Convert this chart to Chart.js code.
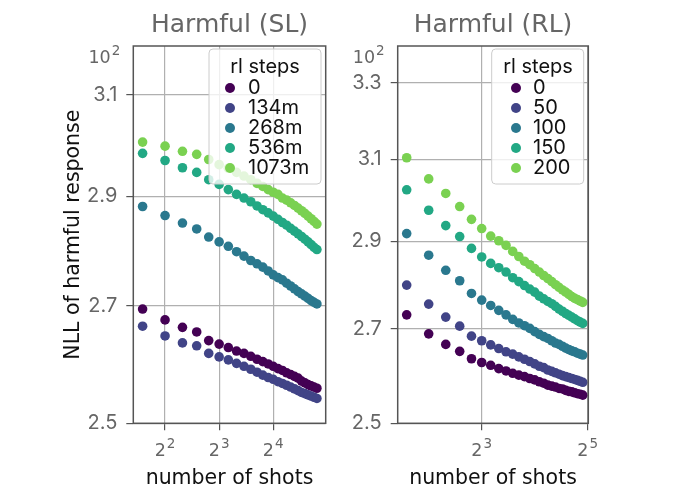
<!DOCTYPE html>
<html>
<head>
<meta charset="utf-8">
<script src="https://cdn.jsdelivr.net/npm/chart.js@4.4.0/dist/chart.umd.min.js"></script>
<style>
  html, body { margin: 0; padding: 0; background: #fff; }
  #wrap { position: relative; width: 680px; height: 499px; }
  .panel { position: absolute; top: 0; width: 340px; height: 499px; }
</style>
</head>
<body>
<div id="wrap">
  <div class="panel" style="left:0"><canvas id="sl" width="340" height="499"></canvas></div>
  <div class="panel" style="left:340px"><canvas id="rl" width="340" height="499"></canvas></div>
</div>
<script>
// number of shots
const shotsSL = [3,4,5,6,7,8,9,10,11,12,13,14,15,16,17,18,19,20,21,22,23,24,25,26,27,28];
const shotsRL = [3,4,5,6,7,8,9,10,11,12,13,14,15,16,17,18,19,20,21,22,23,24,25,26,27,28,29,30];

const slSteps = ["0", "134m", "268m", "536m", "1073m"];
const rlSteps = ["0", "50", "100", "150", "200"];

// NLL of harmful response, Harmful (SL)
const sl0    = [2.694,2.675,2.662,2.654,2.639,2.633,2.627,2.621,2.617,2.612,2.607,2.603,2.599,2.595,2.591,2.588,2.584,2.581,2.578,2.575,2.570,2.567,2.564,2.562,2.560,2.558];
const sl134  = [2.664,2.647,2.635,2.630,2.617,2.611,2.606,2.600,2.595,2.590,2.585,2.580,2.576,2.573,2.569,2.566,2.563,2.560,2.557,2.554,2.551,2.549,2.547,2.545,2.543,2.541];
const sl268  = [2.881,2.864,2.850,2.839,2.824,2.815,2.807,2.797,2.789,2.781,2.775,2.769,2.762,2.755,2.750,2.746,2.740,2.735,2.730,2.725,2.721,2.717,2.713,2.709,2.706,2.703];
const sl536  = [2.983,2.969,2.955,2.946,2.932,2.923,2.913,2.904,2.897,2.890,2.882,2.875,2.869,2.863,2.857,2.851,2.846,2.840,2.835,2.830,2.825,2.820,2.815,2.810,2.805,2.801];
const sl1073 = [3.005,2.997,2.987,2.981,2.971,2.961,2.954,2.946,2.939,2.932,2.925,2.919,2.913,2.908,2.904,2.897,2.893,2.888,2.883,2.878,2.873,2.868,2.863,2.858,2.853,2.848];

// NLL of harmful response, Harmful (RL)
const rl0   = [2.731,2.689,2.666,2.651,2.635,2.627,2.621,2.614,2.609,2.604,2.600,2.597,2.593,2.590,2.586,2.583,2.579,2.577,2.575,2.572,2.571,2.568,2.566,2.565,2.563,2.561,2.560,2.558];
const rl50  = [2.798,2.755,2.726,2.706,2.684,2.674,2.665,2.657,2.650,2.645,2.639,2.634,2.629,2.624,2.619,2.616,2.611,2.608,2.605,2.602,2.599,2.597,2.595,2.593,2.591,2.589,2.587,2.585];
const rl100 = [2.918,2.867,2.832,2.808,2.779,2.764,2.752,2.741,2.731,2.721,2.713,2.707,2.701,2.694,2.688,2.683,2.679,2.674,2.669,2.666,2.662,2.658,2.655,2.652,2.650,2.647,2.645,2.643];
const rl150 = [3.024,2.974,2.937,2.911,2.883,2.863,2.848,2.838,2.828,2.815,2.806,2.797,2.789,2.782,2.773,2.767,2.761,2.756,2.750,2.744,2.739,2.734,2.730,2.726,2.722,2.718,2.715,2.712];
const rl200 = [3.104,3.051,3.015,2.983,2.952,2.930,2.912,2.901,2.890,2.876,2.864,2.853,2.845,2.836,2.828,2.820,2.813,2.806,2.799,2.793,2.787,2.782,2.777,2.772,2.768,2.765,2.762,2.759];

// ticks (x labels are 2^exp, the top y tick is labelled 10^2)
const slXTicks = [4, 8, 16];
const rlXTicks = [8, 32];
const slYTicks = [2.5, 2.7, 2.9, 3.1];
const rlYTicks = [2.5, 2.7, 2.9, 3.1, 3.3];
const slTopTick = 3.178;
const rlTopTick = 3.371;

const colors = ["#440154", "#414487", "#2a788e", "#22a884", "#7ad151"];
const FONT = "Inter";
const MATH = "DejaVu Sans";
const GRID = "#b0b0b0";

// base with superscript, centred or right aligned at x, base baseline at y
function drawPow(c, base, exp, x, y, align) {
  c.font = "17.5px " + MATH;
  const bw = c.measureText(base).width;
  c.font = "13.5px " + MATH;
  const ew = c.measureText(exp).width;
  const total = bw + 1 + ew;
  const x0 = align === "right" ? x - total : x - total / 2;
  c.textAlign = "left";
  c.textBaseline = "alphabetic";
  c.font = "17.5px " + MATH;
  c.fillText(base, x0, y);
  c.font = "13.5px " + MATH;
  c.fillText(exp, x0 + bw + 1, y - 8);
}

function legendPlugin(labels, pos) {
  return {
    id: "innerLegend",
    afterDraw(chart) {
      const c = chart.ctx;
      c.save();
      c.beginPath();
      c.roundRect(pos.x, pos.y, pos.w, pos.h, 4);
      c.fillStyle = "rgba(255,255,255,0.8)";
      c.fill();
      c.strokeStyle = "#cccccc";
      c.lineWidth = 1;
      c.stroke();
      c.fillStyle = "#111";
      c.font = "20px " + FONT;
      c.textBaseline = "middle";
      c.textAlign = "center";
      c.fillText("rl steps", pos.titleX, pos.y + 18);
      c.textAlign = "left";
      labels.forEach((lab, i) => {
        const yy = pos.y + 39 + i * 20;
        c.beginPath();
        c.arc(pos.markerX, yy, 5, 0, Math.PI * 2);
        c.fillStyle = colors[i];
        c.fill();
        c.fillStyle = "#111";
        c.fillText(lab, pos.textX, yy);
      });
      c.restore();
    }
  };
}

const framePlugin = {
  id: "frame",
  afterDatasetsDraw(chart) {
    const a = chart.chartArea, c = chart.ctx;
    c.save();
    c.strokeStyle = "#555";
    c.lineWidth = 1.5;
    c.strokeRect(a.left, a.top, a.right - a.left, a.bottom - a.top);
    c.restore();
  },
  afterDraw(chart) {
    const a = chart.chartArea, c = chart.ctx, o = chart.options.panel;
    const xs = chart.scales.x, ys = chart.scales.y;
    c.save();
    // panel title
    c.fillStyle = "#666";
    c.font = "25px " + MATH;
    c.textAlign = "center";
    c.textBaseline = "alphabetic";
    c.fillText(o.title, (a.left + a.right) / 2, 32.3);
    // x tick labels 2^n
    o.xTicks.forEach(v => {
      drawPow(c, "2", String(Math.round(Math.log2(v))), xs.getPixelForValue(v), 456, "center");
    });
    // top y label
    drawPow(c, "10", "2", a.left - 13, ys.getPixelForValue(o.topTick) + 6.5, "right");
    c.restore();
  }
};

function makePanel(id, o) {
  const datasets = o.series.map((s, i) => ({
    label: o.steps[i],
    data: o.shots.map((n, k) => ({ x: n, y: s[k] })),
    backgroundColor: colors[i],
    borderWidth: 0,
    pointRadius: 4.8,
    showLine: false,
    order: -i
  }));

  return new Chart(document.getElementById(id), {
    type: "scatter",
    data: { datasets: datasets },
    options: {
      responsive: false,
      animation: false,
      panel: o,
      layout: { padding: { left: 0, right: o.padRight, top: 46, bottom: 0 } },
      plugins: { legend: { display: false }, tooltip: { enabled: false } },
      scales: {
        x: {
          type: "logarithmic",
          bounds: "data",
          min: o.xMin,
          max: o.xMax,
          afterBuildTicks: s => { s.ticks = o.xTicks.map(v => ({ value: v })); },
          afterFit: s => { s.height = 75.7; },
          ticks: {
            autoSkip: false,
            maxRotation: 0,
            color: "#666",
            font: { family: MATH, size: 16 },
            callback: () => ""
          },
          grid: { color: GRID, lineWidth: 1.2, tickLength: 7, tickColor: "#555" },
          border: { display: false },
          title: {
            display: true,
            text: "number of shots",
            color: "#111",
            font: { family: MATH, size: 20.5 },
            padding: { top: 0, bottom: 8 }
          }
        },
        y: {
          type: "logarithmic",
          bounds: "data",
          min: 2.5,
          max: o.yMax,
          afterBuildTicks: s => { s.ticks = o.yTicks.map(v => ({ value: v })); },
          afterFit: s => { s.width = o.yWidth; },
          ticks: {
            autoSkip: false,
            padding: 9,
            color: "#666",
            font: { family: FONT, size: 20 },
            callback: v => v.toFixed(1)
          },
          grid: { color: GRID, lineWidth: 1.2, tickLength: 7, tickColor: "#555" },
          border: { display: false },
          title: {
            display: o.yTitle,
            text: "NLL of harmful response",
            color: "#111",
            font: { family: MATH, size: 20.5 },
            padding: { top: 61.6, bottom: 0 }
          }
        }
      }
    },
    plugins: [framePlugin, legendPlugin(o.steps, o.legend)]
  });
}

makePanel("sl", {
  title: "Harmful (SL)",
  shots: shotsSL,
  steps: slSteps,
  series: [sl0, sl134, sl268, sl536, sl1073],
  xTicks: slXTicks,
  yTicks: slYTicks,
  topTick: slTopTick,
  xMin: 2.663, xMax: 31.34,
  yMax: 3.2,
  yWidth: 133.3,
  padRight: 14.3,
  yTitle: true,
  legend: { x: 209, y: 49, w: 112, h: 135, titleX: 265, markerX: 230, textX: 248 }
});

makePanel("rl", {
  title: "Harmful (RL)",
  shots: shotsRL,
  steps: rlSteps,
  series: [rl0, rl50, rl100, rl150, rl200],
  xTicks: rlXTicks,
  yTicks: rlYTicks,
  topTick: rlTopTick,
  xMin: 2.667, xMax: 32.25,
  yMax: 3.4,
  yWidth: 57.7,
  padRight: 91.7,
  yTitle: false,
  legend: { x: 151.7, y: 49, w: 92, h: 135, titleX: 198, markerX: 176, textX: 193 }
});
</script>
</body>
</html>
